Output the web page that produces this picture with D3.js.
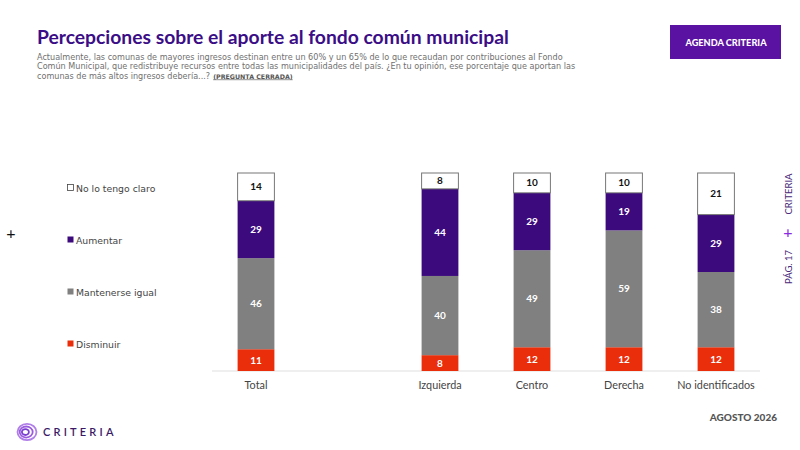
<!DOCTYPE html>
<html>
<head>
<meta charset="utf-8">
<script src="https://cdn.jsdelivr.net/npm/d3@7"></script>
<style>
  body { margin: 0; background: #fff; }
  svg { display: block; font-family: Lato, "Open Sans", sans-serif; }
</style>
</head>
<body>
<div id="chart"></div>
<script>
// categories ("" is the empty slot after Total)
var categories = ["Total", "", "Izquierda", "Centro", "Derecha", "No identificados"];
var groups = ["Total", "Izquierda", "Centro", "Derecha", "No identificados"];

// series values, bottom to top
var disminuir = [11, 8, 12, 12, 12];
var mantenerse = [46, 40, 49, 59, 38];
var aumentar = [29, 44, 29, 19, 29];
var noClaro = [14, 8, 10, 10, 21];

var seriesNames = ["Disminuir", "Mantenerse igual", "Aumentar", "No lo tengo claro"];
var seriesColors = ["#ea2e0b", "#808080", "#3c0a7c", "#ffffff"];
var labelColors = ["#fff", "#fff", "#fff", "#111"];

var width = 800, height = 450;
var wide = "'DejaVu Sans', sans-serif";

var svg = d3.select("#chart")
  .append("svg")
    .attr("width", width)
    .attr("height", height);

// header
svg.append("text")
  .attr("x", 37).attr("y", 44)
  .attr("font-size", 19.3).attr("font-weight", 700)
  .attr("fill", "#3b0d86")
  .text("Percepciones sobre el aporte al fondo común municipal");

var sub = [
  "Actualmente, las comunas de mayores ingresos destinan entre un 60% y un 65% de lo que recaudan por contribuciones al Fondo",
  "Común Municipal, que redistribuye recursos entre todas las municipalidades del país. ¿En tu opinión, ese porcentaje que aportan las",
  "comunas de más altos ingresos debería...?"
];
var lastLine;
sub.forEach(function(s, i) {
  lastLine = svg.append("text")
    .attr("x", 37).attr("y", 59.5 + i * 9.5)
    .attr("font-family", wide)
    .attr("font-size", 8.1).attr("fill", "#707070")
    .text(s);
});
var endX = 37 + lastLine.node().getComputedTextLength();
svg.append("text")
  .attr("x", endX + 3).attr("y", 78.5)
  .attr("font-family", wide)
  .attr("font-size", 6.3).attr("font-weight", 700)
  .attr("fill", "#555")
  .attr("text-decoration", "underline")
  .text("(PREGUNTA CERRADA)");

// badge
svg.append("rect")
  .attr("x", 670).attr("y", 25).attr("width", 111).attr("height", 34)
  .attr("fill", "#5a12a2");
svg.append("text")
  .attr("x", 726).attr("y", 45.5)
  .attr("text-anchor", "middle")
  .attr("font-size", 9.2).attr("font-weight", 900)
  .attr("fill", "#fff")
  .text("AGENDA CRITERIA");

// scales
var x = d3.scaleBand()
  .domain(categories)
  .range([210, 762])
  .paddingInner(0.6)
  .paddingOuter(0.3);

var y = d3.scaleLinear()
  .domain([0, 100])
  .range([371, 173]);

// baseline + labels
var xAxis = svg.append("g")
  .attr("transform", "translate(0,371)")
  .call(d3.axisBottom(x).tickSize(0).tickPadding(10)
    .tickFormat(function(d) { return d; }));
xAxis.select(".domain").attr("stroke", "#e0e0e0").attr("stroke-width", 1.2)
  .attr("d", "M212,0H760");
xAxis.selectAll("text")
  .attr("font-family", "Lato, 'Open Sans', sans-serif")
  .attr("font-size", 10.8).attr("fill", "#444");

// stack
var rows = groups.map(function(g, i) {
  return { name: g, d: disminuir[i], m: mantenerse[i], a: aumentar[i], n: noClaro[i] };
});
var keys = ["d", "m", "a", "n"];
var stacked = d3.stack().keys(keys)(rows);

var layers = svg.append("g")
  .selectAll("g")
  .data(stacked)
  .enter().append("g");

layers.selectAll("rect")
  .data(function(layer, li) { return layer.map(function(p) { return { p: p, li: li }; }); })
  .enter().append("rect")
    .attr("x", function(d) { return x(d.p.data.name); })
    .attr("y", function(d) { return y(d.p[1]); })
    .attr("width", x.bandwidth())
    .attr("height", function(d) { return y(d.p[0]) - y(d.p[1]); })
    .attr("fill", function(d) { return seriesColors[d.li]; })
    .attr("stroke", function(d) { return d.li == 3 ? "#777" : "none"; })
    .attr("stroke-width", 1);

layers.selectAll("text")
  .data(function(layer, li) { return layer.map(function(p) { return { p: p, li: li }; }); })
  .enter().append("text")
    .attr("x", function(d) { return x(d.p.data.name) + x.bandwidth() / 2; })
    .attr("y", function(d) { return (y(d.p[0]) + y(d.p[1])) / 2 + 3.5; })
    .attr("text-anchor", "middle")
    .attr("font-size", 10).attr("font-weight", 700)
    .attr("fill", function(d) { return labelColors[d.li]; })
    .text(function(d) { return d.p[1] - d.p[0]; });

// legend (top to bottom)
var legendY = [344, 292, 240, 188];
seriesNames.forEach(function(s, i) {
  svg.append("rect")
    .attr("x", 67.5).attr("y", legendY[i] - 3.5)
    .attr("width", 6).attr("height", 6)
    .attr("fill", seriesColors[i])
    .attr("stroke", i == 3 ? "#444" : "none")
    .attr("stroke-width", 0.8);
  svg.append("text")
    .attr("x", 76).attr("y", legendY[i] + 3.5)
    .attr("font-family", wide)
    .attr("font-size", 9.3).attr("fill", "#444")
    .text(s);
});

// decorations
svg.append("text")
  .attr("x", 11).attr("y", 239)
  .attr("text-anchor", "middle")
  .attr("font-size", 16).attr("fill", "#111")
  .text("+");

svg.append("text")
  .attr("transform", "translate(792,194) rotate(-90)")
  .attr("text-anchor", "middle")
  .attr("font-size", 9.5).attr("fill", "#4a2a7a")
  .text("CRITERIA");
svg.append("text")
  .attr("x", 788).attr("y", 238)
  .attr("text-anchor", "middle")
  .attr("font-size", 16).attr("fill", "#8a2be2")
  .text("+");
svg.append("text")
  .attr("transform", "translate(792,267) rotate(-90)")
  .attr("text-anchor", "middle")
  .attr("font-size", 9.5).attr("fill", "#4a2a7a")
  .text("PÁG. 17");

svg.append("text")
  .attr("x", 777).attr("y", 421)
  .attr("text-anchor", "end")
  .attr("font-size", 10).attr("font-weight", 900)
  .attr("fill", "#555")
  .text("AGOSTO 2026");

// logo
var logo = svg.append("g").attr("transform", "translate(27,432)");
[9.5, 6.5, 3.5].forEach(function(r, i) {
  logo.append("ellipse")
    .attr("cx", i * -0.8).attr("cy", 0)
    .attr("rx", r).attr("ry", r * 0.85)
    .attr("fill", "none")
    .attr("stroke", ["#b07ee8", "#9b5be0", "#7b3fd0"][i])
    .attr("stroke-width", 1.8);
});
svg.append("text")
  .attr("x", 43).attr("y", 436)
  .attr("font-size", 11).attr("font-weight", 600)
  .attr("letter-spacing", 3.2)
  .attr("fill", "#3a1a66")
  .text("CRITERIA");
</script>
</body>
</html>
